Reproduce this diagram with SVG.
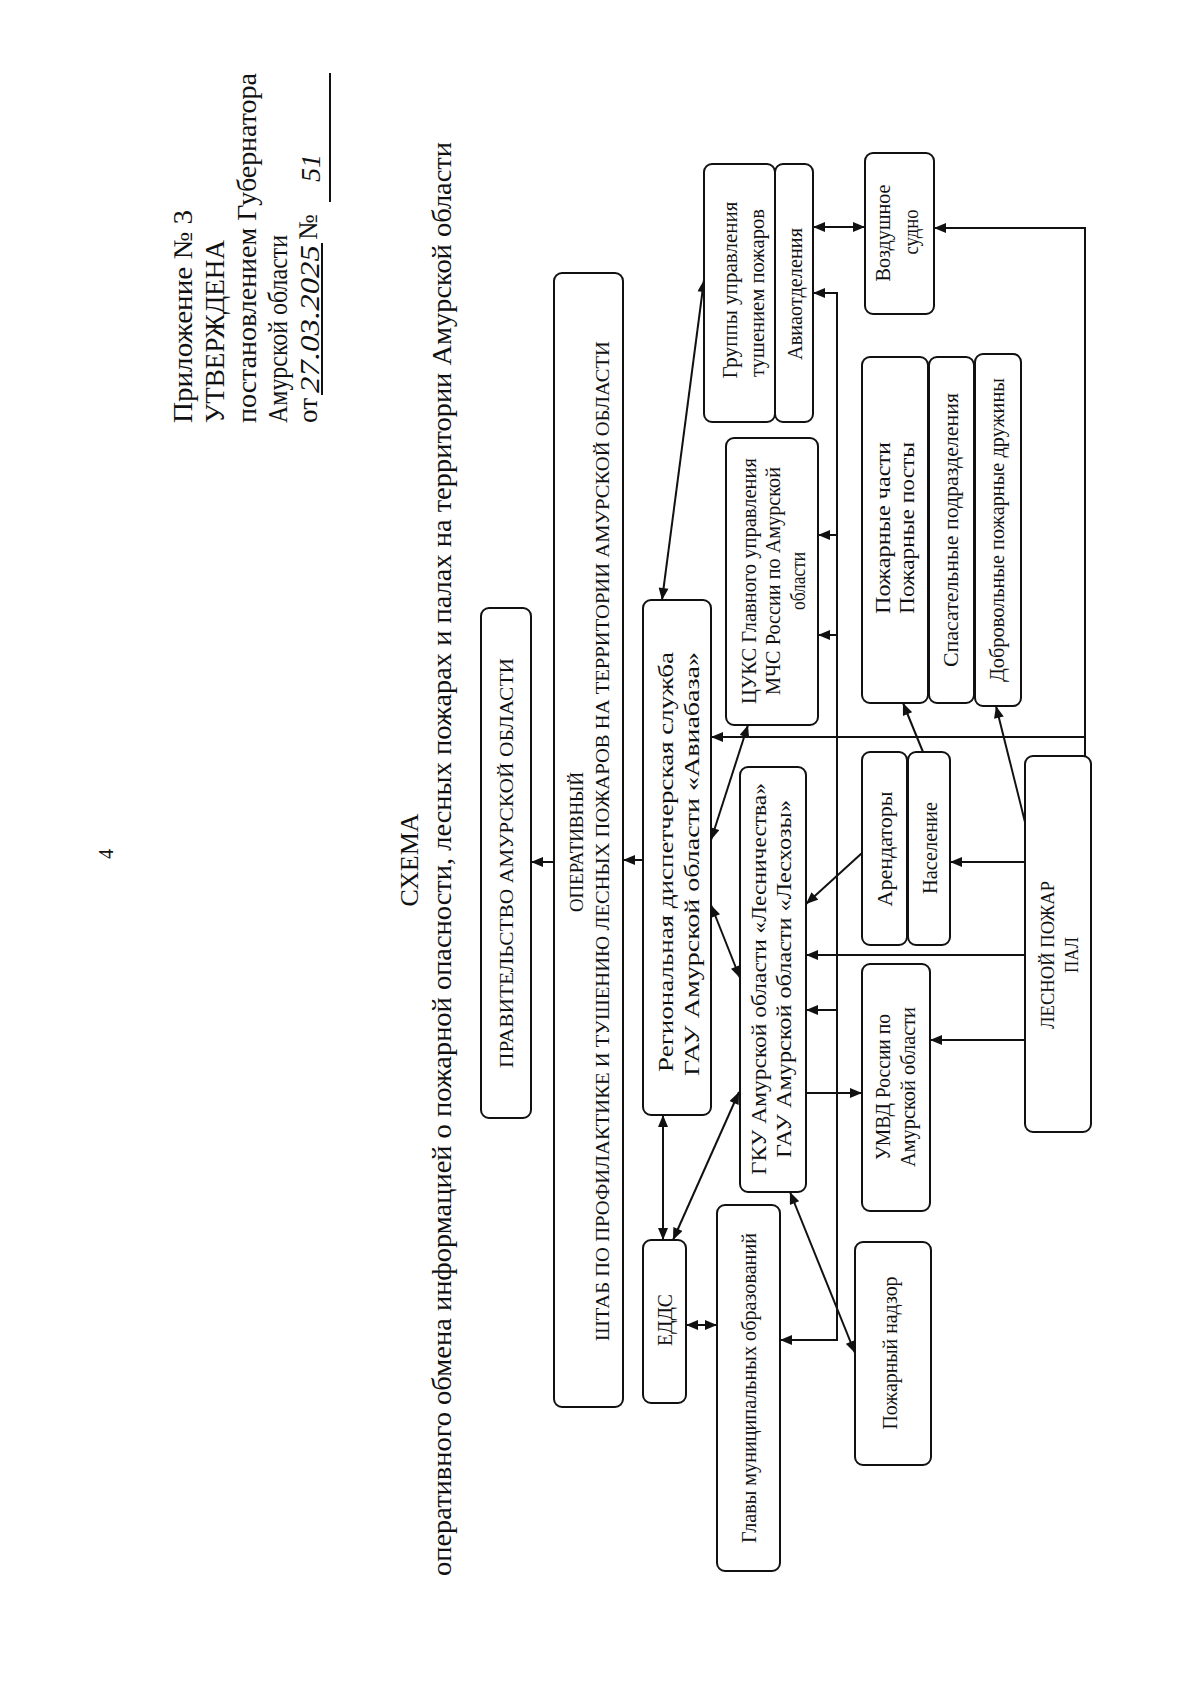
<svg xmlns="http://www.w3.org/2000/svg" width="1200" height="1708" viewBox="0 0 1200 1708">
<style>
.t{font-family:"Liberation Serif","Times New Roman",serif;fill:#111}
.h{font-size:27px}
.b{font-size:21px}
.c{font-size:19px}
.hw{font-family:"Liberation Serif",serif;font-style:italic;font-size:28px;fill:#111}
.box{fill:#fff;stroke:#111;stroke-width:2}
.ln{fill:none;stroke:#111;stroke-width:2}
</style>
<defs>
<marker id="ah" viewBox="0 0 12 10" refX="12" refY="5" markerWidth="13" markerHeight="10" markerUnits="userSpaceOnUse" orient="auto-start-reverse">
<path d="M0,0 L12,5 L0,10 z" fill="#111"/>
</marker>
</defs>
<rect width="1200" height="1708" fill="#fff"/>

<g id="header">
<text class="t" font-size="20" transform="translate(113,854) rotate(-90)" text-anchor="middle">4</text>
<text class="t h" transform="translate(192,423) rotate(-90)" textLength="213" lengthAdjust="spacingAndGlyphs">Приложение № 3</text>
<text class="t h" transform="translate(224,423) rotate(-90)" textLength="183" lengthAdjust="spacingAndGlyphs">УТВЕРЖДЕНА</text>
<text class="t h" transform="translate(256,423) rotate(-90)" textLength="350" lengthAdjust="spacingAndGlyphs">постановлением Губернатора</text>
<text class="t h" transform="translate(287,423) rotate(-90)" textLength="188" lengthAdjust="spacingAndGlyphs">Амурской области</text>
<text class="t h" transform="translate(317,423) rotate(-90)">от</text>
<text class="hw" transform="translate(319,393) rotate(-90)" textLength="148" lengthAdjust="spacingAndGlyphs">27.03.2025</text>
<line class="ln" x1="322" y1="395" x2="322" y2="243" stroke-width="1.5"/>
<text class="t h" transform="translate(317,240) rotate(-90)">№</text>
<text class="hw" font-size="32" transform="translate(320,182) rotate(-90)">51</text>
<line class="ln" x1="330" y1="202" x2="330" y2="73" stroke-width="1.5"/>
</g>

<g id="title">
<text class="t" font-size="26" transform="translate(418,860) rotate(-90)" text-anchor="middle">СХЕМА</text>
<text class="t" font-size="28" transform="translate(451,859) rotate(-90)" text-anchor="middle" textLength="1434" lengthAdjust="spacingAndGlyphs">оперативного обмена информацией о пожарной опасности, лесных пожарах и палах на территории Амурской области</text>
</g>

<g id="connectors">
<path class="ln" d="M554,862 H531" marker-end="url(#ah)"/>
<path class="ln" d="M643,860 H623" marker-end="url(#ah)"/>
<path class="ln" d="M662,600 L704,280" marker-start="url(#ah)" marker-end="url(#ah)"/>
<path class="ln" d="M813,227 H865" marker-start="url(#ah)" marker-end="url(#ah)"/>
<path class="ln" d="M1085,756 V228 H934" marker-end="url(#ah)"/>
<path class="ln" d="M1085,737 H711" marker-end="url(#ah)"/>
<path class="ln" d="M780,1340 H837 V293 H813" marker-start="url(#ah)" marker-end="url(#ah)"/>
<path class="ln" d="M837,535 H818" marker-end="url(#ah)"/>
<path class="ln" d="M837,635 H818" marker-end="url(#ah)"/>
<path class="ln" d="M837,1010 H806" marker-end="url(#ah)"/>
<path class="ln" d="M1025,862 H950" marker-end="url(#ah)"/>
<path class="ln" d="M1025,955 H806" marker-end="url(#ah)"/>
<path class="ln" d="M1025,1040 H930" marker-end="url(#ah)"/>
<path class="ln" d="M1025,822 L996,706" marker-end="url(#ah)"/>
<path class="ln" d="M923,752 L903,703" marker-end="url(#ah)"/>
<path class="ln" d="M862,853 L806,904" marker-end="url(#ah)"/>
<path class="ln" d="M806,1093 H862" marker-end="url(#ah)"/>
<path class="ln" d="M711,840 L748,725" marker-start="url(#ah)" marker-end="url(#ah)"/>
<path class="ln" d="M711,905 L740,978" marker-start="url(#ah)" marker-end="url(#ah)"/>
<path class="ln" d="M663,1115 V1240" marker-start="url(#ah)" marker-end="url(#ah)"/>
<path class="ln" d="M739,1092 L673,1240" marker-start="url(#ah)" marker-end="url(#ah)"/>
<path class="ln" d="M686,1325 H717" marker-start="url(#ah)" marker-end="url(#ah)"/>
<path class="ln" d="M790,1192 L855,1353" marker-start="url(#ah)" marker-end="url(#ah)"/>
</g>

<g id="gov">
<rect class="box" x="481" y="608" width="50" height="510" rx="8"/>
<text class="t c" transform="translate(513,863) rotate(-90)" text-anchor="middle" textLength="410" lengthAdjust="spacingAndGlyphs">ПРАВИТЕЛЬСТВО АМУРСКОЙ ОБЛАСТИ</text>
</g>
<g id="shtab">
<rect class="box" x="554" y="273" width="69" height="1134" rx="8"/>
<text class="t c" transform="translate(583,842) rotate(-90)" text-anchor="middle" textLength="140" lengthAdjust="spacingAndGlyphs">ОПЕРАТИВНЫЙ</text>
<text class="t c" transform="translate(609,841) rotate(-90)" text-anchor="middle" textLength="1000" lengthAdjust="spacingAndGlyphs">ШТАБ ПО ПРОФИЛАКТИКЕ И ТУШЕНИЮ ЛЕСНЫХ ПОЖАРОВ НА ТЕРРИТОРИИ АМУРСКОЙ ОБЛАСТИ</text>
</g>
<g id="rds">
<rect class="box" x="643" y="600" width="68" height="515" rx="8"/>
<text class="t" font-size="20" transform="translate(673,862) rotate(-90)" text-anchor="middle" textLength="420" lengthAdjust="spacingAndGlyphs">Региональная диспетчерская служба</text>
<text class="t" font-size="20" transform="translate(699,864) rotate(-90)" text-anchor="middle" textLength="424" lengthAdjust="spacingAndGlyphs">ГАУ Амурской области «Авиабаза»</text>
</g>
<g id="groups">
<rect class="box" x="704" y="164" width="71" height="258" rx="8"/>
<text class="t b" transform="translate(737,290) rotate(-90)" text-anchor="middle" textLength="177" lengthAdjust="spacingAndGlyphs">Группы управления</text>
<text class="t b" transform="translate(764,293) rotate(-90)" text-anchor="middle" textLength="168" lengthAdjust="spacingAndGlyphs">тушением пожаров</text>
</g>
<g id="avia">
<rect class="box" x="775" y="164" width="38" height="258" rx="8"/>
<text class="t b" transform="translate(802,294) rotate(-90)" text-anchor="middle" textLength="132" lengthAdjust="spacingAndGlyphs">Авиаотделения</text>
</g>
<g id="cuks">
<rect class="box" x="726" y="438" width="92" height="287" rx="8"/>
<text class="t b" transform="translate(756,581) rotate(-90)" text-anchor="middle" textLength="246" lengthAdjust="spacingAndGlyphs">ЦУКС Главного управления</text>
<text class="t b" transform="translate(780,581) rotate(-90)" text-anchor="middle" textLength="228" lengthAdjust="spacingAndGlyphs">МЧС России по Амурской</text>
<text class="t b" transform="translate(805,581) rotate(-90)" text-anchor="middle" textLength="58" lengthAdjust="spacingAndGlyphs">области</text>
</g>
<g id="gku">
<rect class="box" x="740" y="767" width="66" height="425" rx="8"/>
<text class="t b" transform="translate(766,979) rotate(-90)" text-anchor="middle" textLength="392" lengthAdjust="spacingAndGlyphs">ГКУ Амурской области «Лесничества»</text>
<text class="t b" transform="translate(791,979) rotate(-90)" text-anchor="middle" textLength="358" lengthAdjust="spacingAndGlyphs">ГАУ Амурской области «Лесхозы»</text>
</g>
<g id="aircraft">
<rect class="box" x="865" y="153" width="69" height="161" rx="8"/>
<text class="t b" transform="translate(890,233) rotate(-90)" text-anchor="middle" textLength="97" lengthAdjust="spacingAndGlyphs">Воздушное</text>
<text class="t b" transform="translate(918,232) rotate(-90)" text-anchor="middle" textLength="45" lengthAdjust="spacingAndGlyphs">судно</text>
</g>
<g id="fire-units">
<rect class="box" x="862" y="357" width="66" height="346" rx="8"/>
<text class="t b" transform="translate(890,528) rotate(-90)" text-anchor="middle" textLength="172" lengthAdjust="spacingAndGlyphs">Пожарные части</text>
<text class="t b" transform="translate(914,528) rotate(-90)" text-anchor="middle" textLength="172" lengthAdjust="spacingAndGlyphs">Пожарные посты</text>
</g>
<g id="rescue">
<rect class="box" x="929" y="357" width="45" height="346" rx="8"/>
<text class="t b" transform="translate(958,530) rotate(-90)" text-anchor="middle" textLength="274" lengthAdjust="spacingAndGlyphs">Спасательные подразделения</text>
</g>
<g id="volunteers">
<rect class="box" x="975" y="354" width="46" height="352" rx="8"/>
<text class="t b" transform="translate(1004,530) rotate(-90)" text-anchor="middle" textLength="304" lengthAdjust="spacingAndGlyphs">Добровольные пожарные дружины</text>
</g>
<g id="tenants">
<rect class="box" x="862" y="752" width="45" height="193" rx="8"/>
<text class="t b" transform="translate(892,849) rotate(-90)" text-anchor="middle" textLength="115" lengthAdjust="spacingAndGlyphs">Арендаторы</text>
</g>
<g id="population">
<rect class="box" x="908" y="752" width="42" height="193" rx="8"/>
<text class="t b" transform="translate(937,848) rotate(-90)" text-anchor="middle" textLength="92" lengthAdjust="spacingAndGlyphs">Население</text>
</g>
<g id="umvd">
<rect class="box" x="862" y="964" width="68" height="247" rx="8"/>
<text class="t b" transform="translate(890,1087) rotate(-90)" text-anchor="middle" textLength="146" lengthAdjust="spacingAndGlyphs">УМВД России по</text>
<text class="t b" transform="translate(915,1087) rotate(-90)" text-anchor="middle" textLength="160" lengthAdjust="spacingAndGlyphs">Амурской области</text>
</g>
<g id="fire">
<rect class="box" x="1025" y="756" width="66" height="376" rx="8"/>
<text class="t c" transform="translate(1054,955) rotate(-90)" text-anchor="middle" textLength="148" lengthAdjust="spacingAndGlyphs">ЛЕСНОЙ ПОЖАР</text>
<text class="t c" transform="translate(1078,955) rotate(-90)" text-anchor="middle" textLength="36" lengthAdjust="spacingAndGlyphs">ПАЛ</text>
</g>
<g id="edds">
<rect class="box" x="643" y="1240" width="43" height="163" rx="8"/>
<text class="t b" transform="translate(672,1320) rotate(-90)" text-anchor="middle" textLength="52" lengthAdjust="spacingAndGlyphs">ЕДДС</text>
</g>
<g id="heads">
<rect class="box" x="717" y="1205" width="63" height="366" rx="8"/>
<text class="t b" transform="translate(756,1388) rotate(-90)" text-anchor="middle" textLength="310" lengthAdjust="spacingAndGlyphs">Главы муниципальных образований</text>
</g>
<g id="supervision">
<rect class="box" x="855" y="1242" width="76" height="223" rx="8"/>
<text class="t b" transform="translate(897,1353) rotate(-90)" text-anchor="middle" textLength="153" lengthAdjust="spacingAndGlyphs">Пожарный надзор</text>
</g>
</svg>
